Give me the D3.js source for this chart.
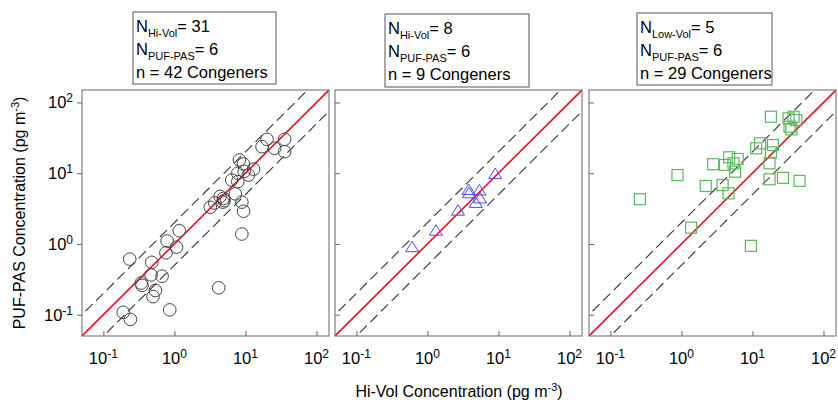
<!DOCTYPE html>
<html>
<head>
<meta charset="utf-8">
<script src="https://cdn.jsdelivr.net/npm/d3@7"></script>
<style>
  body { margin: 0; background: #fff; }
  text { font-family: "Liberation Sans", Arial, sans-serif; fill: #000; }
</style>
</head>
<body>
<svg width="838" height="403"></svg>
<script>
const svg = d3.select("svg");

// data (Hi-Vol / Low-Vol conc, PUF-PAS conc), pg m-3
const hiVolOC = [
  [35.6, 30.1], [20.1, 30.1], [17.1, 23.7], [25.7, 22.5], [35.6, 20.1],
  [8.2, 15.4], [9.4, 13.5], [13.0, 11.4], [7.8, 10.0], [11.0, 9.4],
  [9.6, 10.6], [6.4, 8.0], [7.8, 7.6], [7.2, 5.1], [4.4, 4.7],
  [4.9, 4.4], [3.7, 3.8], [4.8, 3.9], [3.2, 3.3], [8.9, 3.9],
  [9.4, 2.9], [1.17, 1.54], [0.79, 1.10], [1.07, 0.90], [0.76, 0.75],
  [0.235, 0.61], [0.48, 0.55], [0.47, 0.365], [0.67, 0.35], [0.34, 0.28],
  [0.35, 0.26], [0.54, 0.22], [0.50, 0.18], [0.86, 0.117], [0.19, 0.108],
  [0.24, 0.086], [4.2, 0.24], [8.9, 1.38], [5.0, 4.1]
];
const hiVolOther = [
  [9.0, 9.7], [3.8, 5.8], [3.85, 5.2], [5.4, 5.7], [5.5, 4.4],
  [4.8, 3.8], [2.7, 2.95], [1.32, 1.54], [0.61, 0.90]
];
const lowVol = [
  [18.2, 62.9], [32.2, 59.6], [37.9, 62.9], [41.4, 56.4], [33.3, 45.4],
  [35.3, 41.7], [12.8, 26.4], [19.4, 25.0], [11.3, 22.5], [18.2, 19.7],
  [4.7, 16.8], [6.2, 15.9], [2.8, 13.4], [4.1, 13.1], [5.4, 13.8],
  [5.7, 10.5], [17.4, 13.8], [17.4, 8.2], [26.9, 8.6], [46.1, 7.8],
  [2.2, 6.6], [3.8, 6.8], [4.6, 5.2], [0.88, 9.4], [0.26, 4.3],
  [1.37, 1.70], [9.5, 0.94]
];

const tickVals = [0.1, 1, 10, 100];
const tickExp = ["-1", "0", "1", "2"];
const boxLines = [
  [["N", "Hi-Vol", "= 31"], ["N", "PUF-PAS", "= 6"], ["n = 42 Congeners"]],
  [["N", "Hi-Vol", "= 8"], ["N", "PUF-PAS", "= 6"], ["n = 9 Congeners"]],
  [["N", "Low-Vol", "= 5"], ["N", "PUF-PAS", "= 6"], ["n = 29 Congeners"]]
];

const panels = [
  { left: 82, data: hiVolOC, mark: "circle", box: [133, 12, 143, 72] },
  { left: 335, data: hiVolOther, mark: "triangle", box: [385, 14, 144, 73] },
  { left: 589, data: lowVol, mark: "square", box: [637, 13, 135, 72] }
];
const pw = 247, plotTop = 90, plotBottom = 336;
const domain = [0.05, 150];

const y = d3.scaleLog().domain(domain).range([plotBottom, plotTop]);

panels.forEach((p, i) => {
  const x = d3.scaleLog().domain(domain).range([p.left, p.left + pw]);
  const g = svg.append("g");

  const clipId = "clip" + i;
  svg.append("clipPath").attr("id", clipId)
    .append("rect").attr("x", p.left).attr("y", plotTop).attr("width", pw).attr("height", plotBottom - plotTop);

  const line = d3.line().x(d => x(d[0])).y(d => y(d[1]));
  const lg = g.append("g").attr("clip-path", `url(#${clipId})`);
  [2, 0.5].forEach(f => {
    lg.append("path")
      .attr("d", line([[0.01, 0.01 * f], [1000, 1000 * f]]))
      .attr("fill", "none").attr("stroke", "#333").attr("stroke-width", 1.1)
      .attr("stroke-dasharray", "10,5");
  });
  lg.append("path")
    .attr("d", line([[0.01, 0.01], [1000, 1000]]))
    .attr("fill", "none").attr("stroke", "#e8101a").attr("stroke-width", 1.6);

  // points
  if (p.mark === "circle") {
    g.selectAll(".pt").data(p.data).enter().append("circle")
      .attr("cx", d => x(d[0])).attr("cy", d => y(d[1])).attr("r", 6.3)
      .attr("fill", "none").attr("stroke", "#444").attr("stroke-width", 1);
  } else if (p.mark === "triangle") {
    g.selectAll(".pt").data(p.data).enter().append("path")
      .attr("d", "M0,-6L6.5,4.5L-6.5,4.5Z")
      .attr("transform", d => `translate(${x(d[0])},${y(d[1])})`)
      .attr("fill", "none").attr("stroke", "#4a4aff").attr("stroke-width", 1);
  } else {
    g.selectAll(".pt").data(p.data).enter().append("rect")
      .attr("x", d => x(d[0]) - 5.5).attr("y", d => y(d[1]) - 5.5)
      .attr("width", 11).attr("height", 11)
      .attr("fill", "none").attr("stroke", "#5cb85c").attr("stroke-width", 1.2);
  }

  // frame
  g.append("rect").attr("x", p.left).attr("y", plotTop).attr("width", pw).attr("height", plotBottom - plotTop)
    .attr("fill", "none").attr("stroke", "#666").attr("stroke-width", 1);

  // x axis ticks (inward)
  const xa = g.append("g").attr("transform", `translate(0,${plotBottom})`)
    .call(d3.axisBottom(x).tickValues(tickVals).tickSize(-5).tickFormat(""));
  xa.select(".domain").remove();
  xa.selectAll("line").attr("stroke", "#666");

  const ya = g.append("g").attr("transform", `translate(${p.left},0)`)
    .call(d3.axisLeft(y).tickValues(tickVals).tickSize(i === 0 ? 5 : -5).tickFormat(""));
  ya.select(".domain").remove();
  ya.selectAll("line").attr("stroke", "#666");

  // x tick labels
  tickVals.forEach((v, k) => {
    const t = g.append("text").attr("x", x(v)).attr("y", 364)
      .attr("text-anchor", "middle").attr("font-size", 16.5);
    t.append("tspan").text("10");
    t.append("tspan").attr("dy", -6).attr("font-size", 12).text(tickExp[k]);
  });
  if (i === 0) {
    tickVals.forEach((v, k) => {
      const t = g.append("text").attr("x", 73).attr("y", y(v) + 6)
        .attr("text-anchor", "end").attr("font-size", 16.5);
      t.append("tspan").text("10");
      t.append("tspan").attr("dy", -6).attr("font-size", 12).text(tickExp[k]);
    });
  }

  // info box
  const [bx, by, bw, bh] = p.box;
  g.append("rect").attr("x", bx).attr("y", by).attr("width", bw).attr("height", bh)
    .attr("fill", "#fff").attr("stroke", "#555").attr("stroke-width", 1);
  boxLines[i].forEach((ln, k) => {
    const t = g.append("text").attr("x", bx + 3).attr("y", by + 20 + k * 23).attr("font-size", 16.5);
    if (ln.length === 1) {
      t.text(ln[0]);
    } else {
      t.append("tspan").text(ln[0]);
      t.append("tspan").attr("dy", 5).attr("font-size", 11).text(ln[1]);
      t.append("tspan").attr("dy", -5).text(ln[2]);
    }
  });
});

// axis titles
const xt = svg.append("text").attr("x", 459).attr("y", 397)
  .attr("text-anchor", "middle").attr("font-size", 16);
xt.append("tspan").text("Hi-Vol Concentration (pg m");
xt.append("tspan").attr("dy", -6).attr("font-size", 11).text("-3");
xt.append("tspan").attr("dy", 6).text(")");

const yt = svg.append("text").attr("transform", "translate(25,213) rotate(-90)")
  .attr("text-anchor", "middle").attr("font-size", 16);
yt.append("tspan").text("PUF-PAS Concentration (pg m");
yt.append("tspan").attr("dy", -6).attr("font-size", 11).text("-3");
yt.append("tspan").attr("dy", 6).text(")");
</script>
</body>
</html>
